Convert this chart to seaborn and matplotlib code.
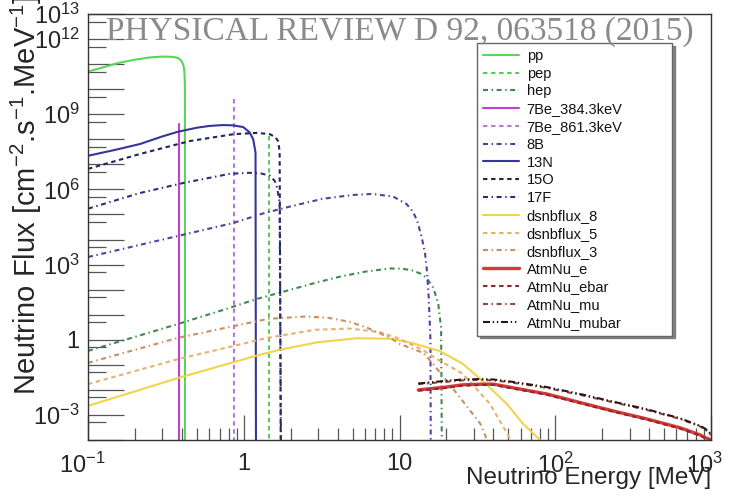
import matplotlib
matplotlib.use("Agg")
import matplotlib.pyplot as plt
import matplotlib.transforms as mtransforms
import seaborn as sns
import pandas as pd
from matplotlib.ticker import FixedLocator, FixedFormatter, NullFormatter

sns.set_style("white")
plt.rcParams["font.family"] = ["Liberation Sans", "DejaVu Sans"]
plt.rcParams["mathtext.fontset"] = "custom"
plt.rcParams["mathtext.rm"] = "Liberation Sans"
plt.rcParams["mathtext.it"] = "Liberation Sans:italic"
plt.rcParams["mathtext.bf"] = "Liberation Sans:bold"
plt.rcParams["lines.scale_dashes"] = False

# ---- spectra: energy [MeV], flux [cm^-2 s^-1 MeV^-1]; endpoints drop below the axis ----
pp_E = [0.1, 0.13, 0.16, 0.2, 0.25, 0.3, 0.35, 0.38, 0.40, 0.41, 0.416, 0.419, 0.4195]
pp_F = [5.0e10, 8.0e10, 1.15e11, 1.5e11, 1.85e11, 2.0e11, 1.95e11, 1.75e11, 1.3e11, 9e10, 5e10, 1.5e10, 1e-6]

pep_E = [1.442, 1.442]
pep_F = [1.35e8, 1e-6]

hep_E = [0.1, 0.2, 0.38, 0.7, 1.22, 1.43, 2.0, 3.0, 4.15, 6.0, 8.7, 10.5, 12.1, 13.6, 14.9, 16.4, 17.7, 18.5, 18.77]
hep_F = [0.36, 1.3, 4.3, 14, 43, 56, 100, 200, 330, 520, 700, 680, 580, 440, 300, 125, 30, 3, 1e-6]

be384_E = [0.3843, 0.3843]
be384_F = [4.2e8, 1e-6]

be861_E = [0.8613, 0.8613]
be861_F = [4.0e9, 1e-6]

b8_E = [0.1, 0.2, 0.38, 0.86, 1.33, 2.0, 3.2, 5.0, 6.7, 9.1, 11.1, 12.2, 13.0, 13.9, 14.6, 15.0, 15.4, 15.8, 15.9]
b8_F = [2.0e3, 5.5e3, 1.4e4, 4.6e4, 1.1e5, 2.1e5, 4.2e5, 6.0e5, 6.6e5, 5.2e5, 2.6e5, 1.3e5, 5.5e4, 1.2e4, 2.7e3, 5.6e2, 50, 1, 1e-6]

n13_E = [0.1, 0.15, 0.216, 0.3, 0.378, 0.5, 0.6, 0.736, 0.85, 0.99, 1.09, 1.15, 1.19, 1.199]
n13_F = [2.2e7, 3.8e7, 6.5e7, 1.3e8, 2.0e8, 2.9e8, 3.4e8, 3.7e8, 3.6e8, 3.1e8, 1.9e8, 1.0e8, 3e7, 1e-6]

o15_E = [0.1, 0.216, 0.45, 0.86, 1.22, 1.47, 1.60, 1.66, 1.70, 1.732]
o15_F = [6.6e6, 2.6e7, 8.5e7, 1.6e8, 1.8e8, 1.6e8, 1.2e8, 8.5e7, 3.4e7, 1e-6]

f17_E = [0.1, 0.216, 0.408, 0.815, 1.09, 1.30, 1.47, 1.58, 1.64, 1.70, 1.74]
f17_F = [1.7e5, 7.2e5, 1.8e6, 4.2e6, 4.6e6, 4.3e6, 3.5e6, 2.2e6, 1.15e6, 3e5, 1e-6]

# ---- diffuse supernova background (T = 8, 5, 3 MeV) ----
dsnb8_E = [0.1, 0.38, 1.2, 1.7, 3.0, 5.3, 8.7, 12, 18, 25.5, 36, 49, 62, 80, 90]
dsnb8_F = [2.3e-3, 0.03, 0.23, 0.40, 0.8, 1.15, 1.1, 0.75, 0.36, 0.11, 0.017, 2.7e-3, 4.5e-4, 1e-4, 1e-6]

dsnb5_E = [0.1, 0.38, 1.43, 2.86, 4.8, 7.5, 10, 14, 18, 25.5, 38, 51, 60]
dsnb5_F = [0.017, 0.17, 1.2, 2.5, 2.8, 2.0, 1.1, 0.4, 0.15, 0.044, 2.8e-3, 1.2e-4, 1e-6]

dsnb3_E = [0.1, 0.38, 1.43, 2.5, 3.5, 4.8, 6.2, 8.7, 10, 14.2, 16.4, 23.4, 33, 36.5, 40]
dsnb3_F = [0.12, 1.2, 6.8, 8.5, 7.5, 5.2, 3.0, 1.2, 0.69, 0.30, 0.11, 7e-3, 4.5e-4, 1e-4, 1e-6]

# ---- atmospheric neutrinos ----
atm_E = [13.2, 20, 25.5, 33, 40, 53, 88, 145, 235, 385, 630, 850, 920, 1000]
atm_e_F = [0.010, 0.013, 0.016, 0.0168, 0.017, 0.0123, 6.9e-3, 3.1e-3, 1.45e-3, 7e-4, 3.1e-4, 1.6e-4, 1.25e-4, 1.0e-4]
atm_ebar_F = [0.0092, 0.012, 0.0148, 0.0156, 0.0158, 0.0114, 6.4e-3, 2.9e-3, 1.35e-3, 6.5e-4, 2.9e-4, 1.5e-4, 1.15e-4, 0.9e-4]
atm_mu_F = [0.017, 0.021, 0.024, 0.025, 0.024, 0.0195, 0.012, 6.3e-3, 3.2e-3, 1.6e-3, 7e-4, 3.5e-4, 2.6e-4, 1.6e-4]
atm_mubar_F = [0.018, 0.023, 0.026, 0.027, 0.026, 0.021, 0.013, 6.8e-3, 3.4e-3, 1.7e-3, 7.4e-4, 3.7e-4, 2.8e-4, 1.7e-4]

labels = ["pp", "pep", "hep", "7Be_384.3keV", "7Be_861.3keV", "8B", "13N", "15O", "17F",
          "dsnbflux_8", "dsnbflux_5", "dsnbflux_3",
          "AtmNu_e", "AtmNu_ebar", "AtmNu_mu", "AtmNu_mubar"]
energies = [pp_E, pep_E, hep_E, be384_E, be861_E, b8_E, n13_E, o15_E, f17_E,
            dsnb8_E, dsnb5_E, dsnb3_E, atm_E, atm_E, atm_E, atm_E]
fluxes = [pp_F, pep_F, hep_F, be384_F, be861_F, b8_F, n13_F, o15_F, f17_F,
          dsnb8_F, dsnb5_F, dsnb3_F, atm_e_F, atm_ebar_F, atm_mu_F, atm_mubar_F]

SOLID = "-"
DASH = (0, (3.2, 2.6))
DDOT = (0, (3.6, 2.6, 1.0, 2.6))
D3DOT = (0, (5.0, 2.0, 1.0, 2.0, 1.0, 2.0))

styles = [
    ("#5ad45a", SOLID, 1.5), ("#5cc85c", DASH, 1.5), ("#3a8a4a", DDOT, 1.5),
    ("#c040d0", SOLID, 1.5), ("#b878d8", DASH, 1.5), ("#5a3c9c", DDOT, 1.5),
    ("#35359a", SOLID, 1.5), ("#23235e", DASH, 1.5), ("#2e2e78", DDOT, 1.5),
    ("#f0d44c", SOLID, 1.5), ("#e8b070", DASH, 1.5), ("#c89060", DDOT, 1.5),
    ("#d83838", SOLID, 2.4), ("#8c2a2a", DASH, 1.5), ("#8a4a3a", DDOT, 1.5),
    ("#2a1414", D3DOT, 1.5),
]

fig = plt.figure(figsize=(7.30, 4.96), dpi=100)
ax = fig.add_axes([88 / 730, 1 - 440 / 496, (711 - 88) / 730, (440 - 14) / 496])

handles = []
for lab, E, F, (col, ls, lw) in zip(labels, energies, fluxes, styles):
    df = pd.DataFrame({"E": E, "F": F})
    n_before = len(ax.lines)
    sns.lineplot(data=df, x="E", y="F", ax=ax, color=col, linestyle=ls, linewidth=lw,
                 estimator=None, sort=False, legend=False)
    handles.append(ax.lines[n_before])

ax.set_xlabel("")
ax.set_ylabel("")
ax.set_xscale("log")
ax.set_yscale("log")
ax.set_xlim(0.1, 1000)
ax.set_ylim(1e-4, 1e13)

# x axis ticks and labels
ax.xaxis.set_major_locator(FixedLocator([0.1, 1, 10, 100, 1000]))
ax.xaxis.set_major_formatter(FixedFormatter([r"$\mathregular{10^{-1}}$", "1", "10",
                                             r"$\mathregular{10^{2}}$", r"$\mathregular{10^{3}}$"]))
xminor = [m * 10.0 ** k for k in range(-1, 3) for m in range(2, 10)]
ax.xaxis.set_minor_locator(FixedLocator(xminor))
ax.xaxis.set_minor_formatter(NullFormatter())

# y axis: a tick every decade, labels every third decade plus the top
ydec = [10.0 ** k for k in range(-4, 14)]
ax.yaxis.set_major_locator(FixedLocator(ydec))
ylab = {-3: r"$\mathregular{10^{-3}}$", 0: "1", 3: r"$\mathregular{10^{3}}$",
        6: r"$\mathregular{10^{6}}$", 9: r"$\mathregular{10^{9}}$",
        12: r"$\mathregular{10^{12}}$", 13: r"$\mathregular{10^{13}}$"}
ax.yaxis.set_major_formatter(FixedFormatter([ylab.get(k, "") for k in range(-4, 14)]))
ax.yaxis.set_minor_locator(FixedLocator([5 * 10.0 ** k for k in range(-5, 13)]))
ax.yaxis.set_minor_formatter(NullFormatter())

tick_col = "#555555"
ax.tick_params(axis="x", which="major", direction="in", length=18, width=0.9,
               color=tick_col, labelsize=17, pad=9, bottom=True, top=False)
ax.tick_params(axis="x", which="minor", direction="in", length=9, width=0.9,
               color=tick_col, bottom=True, top=False)
ax.tick_params(axis="y", which="major", direction="in", length=26, width=0.9,
               color=tick_col, labelsize=17, pad=6, left=True, right=False)
ax.tick_params(axis="y", which="minor", direction="in", length=13, width=0.9,
               color=tick_col, left=True, right=False)
for sp in ax.spines.values():
    sp.set_color("#333333")
    sp.set_linewidth(1.0)

# nudge the outermost x labels inward so they stay on the canvas
xticks = ax.xaxis.get_major_ticks()
for idx, dx in ((0, -6), (4, -7)):
    lbl = xticks[idx].label1
    lbl.set_transform(lbl.get_transform()
                      + mtransforms.ScaledTranslation(dx / 100, 0, fig.dpi_scale_trans))

fig.text(711 / 730, 1 - 478 / 496, "Neutrino Energy [MeV]", ha="right", va="center", fontsize=17.5)
fig.text(26 / 730, 1 - 395 / 496, r"Neutrino Flux [cm$^{-2}$.s$^{-1}$.MeV$^{-1}$]",
         rotation=90, ha="center", va="bottom", fontsize=21)

leg = ax.legend(handles, labels, loc="upper left",
                bbox_to_anchor=(477 / 730, 1 - 334 / 496, (672 - 477) / 730, (334 - 43) / 496),
                bbox_transform=fig.transFigure, mode="expand", borderaxespad=0,
                fontsize=10.5, handlelength=2.5, handletextpad=0.5, labelspacing=0.26,
                borderpad=0.4, frameon=True, fancybox=False,
                shadow={"color": "#777777", "alpha": 0.9})
leg.get_frame().set_edgecolor("#666666")
leg.get_frame().set_linewidth(1.0)
for t in leg.get_texts():
    t.set_color("#111111")

fig.text(106 / 730, 1 - 40 / 496, "PHYSICAL REVIEW D 92, 063518 (2015)",
         family=["Liberation Serif", "DejaVu Serif"], fontsize=24, color="#8a8a8a",
         ha="left", va="baseline")

fig.savefig("out.png", dpi=100, facecolor="white")
